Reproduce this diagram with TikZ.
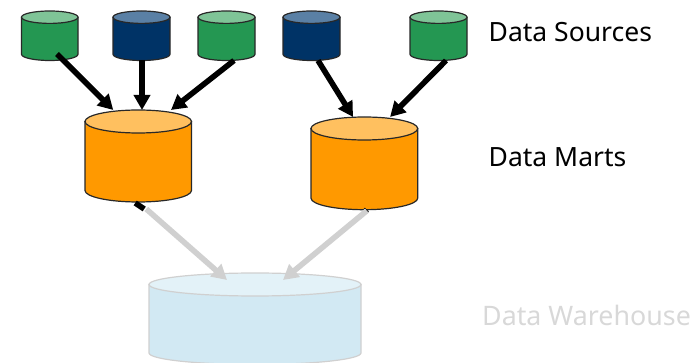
\documentclass[tikz,border=0pt]{standalone}
\usepackage{fontspec}
\setmainfont{Noto Sans}
\usetikzlibrary{arrows.meta}
\definecolor{grn}{HTML}{249752}
\definecolor{grntop}{HTML}{7FC497}
\definecolor{nvy}{HTML}{003366}
\definecolor{nvytop}{HTML}{5A80A5}
\definecolor{org}{HTML}{FF9900}
\definecolor{orgtop}{HTML}{FFC05F}
\definecolor{wh}{HTML}{D2E9F3}
\definecolor{whtop}{HTML}{E3F2F8}
\definecolor{ghost}{HTML}{D0D0D0}
\definecolor{ghosttext}{HTML}{D8D8D8}
\definecolor{edge}{HTML}{282828}
\tikzset{
  flow/.style={line width=5.6pt,draw=black,-{Triangle[width=16pt,length=15pt]}},
  fadedflow/.style={line width=5.6pt,draw=ghost,-{Triangle[width=16pt,length=15pt]}},
  stub/.style={line width=5.6pt,draw=black},
  tag/.style={anchor=base west,inner sep=0pt,font=\fontsize{26.5}{32}\selectfont},
}
% name, left, right, top, bottom, ry, body, top colour, edge colour
\newcommand{\drum}[9]{%
  \pgfmathsetmacro{\cx}{(#2+#3)/2}\pgfmathsetmacro{\rx}{(#3-#2)/2}%
  \pgfmathsetmacro{\cy}{(#4+#5)/2}\pgfmathsetmacro{\hh}{#5-#4}%
  \pgfmathsetmacro{\rimy}{#4+#6}\pgfmathsetmacro{\basey}{#5-#6}%
  \path[fill=#7,draw=#9,line width=1.2pt] (#2,\rimy) -- (#2,\basey)
     arc[start angle=180,end angle=360,x radius=\rx pt,y radius=#6 pt] -- (#3,\rimy) -- cycle;
  \path[fill=#8,draw=#9,line width=1.2pt] (\cx,\rimy) ellipse[x radius=\rx pt,y radius=#6 pt];
  \node[inner sep=0pt,outer sep=0pt,minimum width=\rx*2 pt,minimum height=\hh pt] (#1) at (\cx,\cy) {};
}
\begin{document}
\begin{tikzpicture}[x=1pt,y=-1pt]
\useasboundingbox (0,0) rectangle (694,363);
\clip (0,0) rectangle (694,363);
\drum{wh}{149}{361}{273}{364.5}{11.5}{wh}{whtop}{ghost}
\drum{s1}{21.5}{78}{11}{60.5}{6.2}{grn}{grntop}{edge}
\drum{s2}{113}{170}{11}{60.5}{6.2}{nvy}{nvytop}{edge}
\drum{s3}{198}{255}{11}{60.5}{6.2}{grn}{grntop}{edge}
\drum{s4}{283}{340}{11}{60.5}{6.2}{nvy}{nvytop}{edge}
\drum{s5}{410}{467}{11}{60.5}{6.2}{grn}{grntop}{edge}
\drum{m1}{85}{191.5}{110}{202}{11.5}{org}{orgtop}{edge}
\drum{m2}{311}{417.7}{117}{209.7}{11.5}{org}{orgtop}{edge}
\draw[flow] ([shift={(7.25,-6.5)}]s1.south) -- ([shift={(-25,0)}]m1.north);
\draw[flow] ([shift={(0.5,0)}]s2.south) -- ([shift={(3.75,0)}]m1.north);
\draw[flow] ([shift={(7.5,0)}]s3.south) -- ([shift={(32.75,0)}]m1.north);
\draw[flow] ([shift={(6.5,0)}]s4.south) -- ([shift={(-11.3,0)}]m2.north);
\draw[flow] ([shift={(7.5,0)}]s5.south) -- ([shift={(25.7,0)}]m2.north);
\draw[stub] ([shift={(-3,1)}]m1.south) -- ([shift={(6,7)}]m1.south);
\draw[stub] ([shift={(2.5,0)}]m2.south) -- ([shift={(1,1.5)}]m2.south);
\draw[fadedflow] ([shift={(8,7)}]m1.south) -- ([shift={(-28,7)}]wh.north);
\draw[fadedflow] ([shift={(2.5,1)}]m2.south) -- ([shift={(28,7)}]wh.north);
\node[tag] (l1) at (488.5,42) {Data Sources};
\node[tag] (l2) at (488.5,167) {Data Marts};
\node[tag,text=ghosttext,font=\fontsize{26.8}{32}\selectfont] (l3) at (482,326) {Data Warehouse};
\end{tikzpicture}
\end{document}
